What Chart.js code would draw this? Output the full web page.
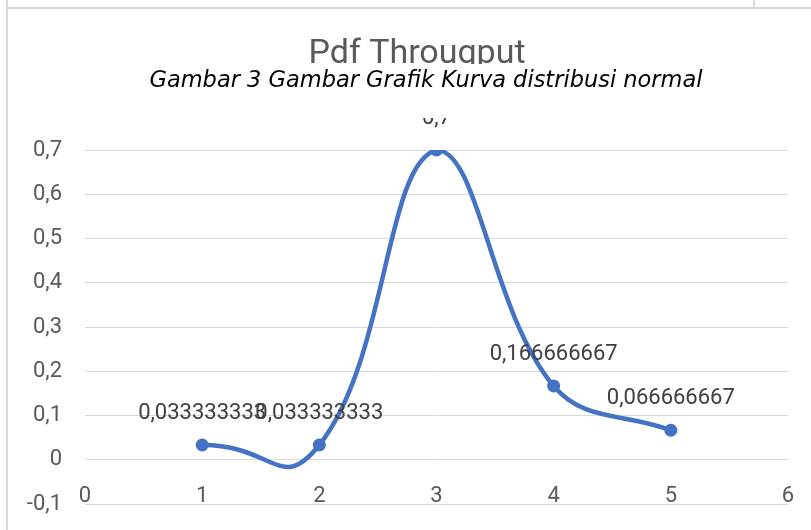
<!DOCTYPE html>
<html>
<head>
<meta charset="utf-8">
<title>Pdf Througput</title>
<script src="https://cdn.jsdelivr.net/npm/chart.js@4.4.1/dist/chart.umd.min.js"></script>
<style>
  html, body { margin: 0; padding: 0; background: #fff; }
  #wrap { position: relative; width: 811px; height: 530px; overflow: hidden; }
  #chart { position: absolute; left: 0; top: 0; }
  .frame { position: absolute; background: #d9d9d9; }
</style>
</head>
<body>
<div id="wrap">
  <canvas id="chart" width="811" height="530"></canvas>
  <div class="frame" style="left:6px; top:0; width:2px; height:530px;"></div>
  <div class="frame" style="left:6px; top:7px; width:805px; height:2px;"></div>
  <div class="frame" style="left:753px; top:0; width:2px; height:8px;"></div>
</div>
<script>
document.addEventListener('DOMContentLoaded', () => {
    // x positions and pdf values
    const xValues = [1, 2, 3, 4, 5];
    const pdfValues = [0.033333333, 0.033333333, 0.7, 0.166666667, 0.066666667];
    const chartTitle = 'Pdf Througput';
    const captionText = 'Gambar 3 Gambar Grafik Kurva distribusi normal';

    const lineColor = '#4472C4';
    const tickColor = '#595959';
    const gridColor = '#d9d9d9';
    const hidden = 'rgba(0,0,0,0)';

    const points = xValues.map((x, i) => ({ x: x, y: pdfValues[i] }));

    // Excel style number: comma as decimal separator
    function fmt(v) {
        return String(v).replace('.', ',');
    }

    // Draw value labels above each point
    const dataLabels = {
        id: 'dataLabels',
        afterDatasetsDraw(chart) {
            const ctx = chart.ctx;
            const meta = chart.getDatasetMeta(0);
            ctx.save();
            ctx.font = '22px Roboto';
            ctx.fillStyle = '#404040';
            ctx.textAlign = 'center';
            ctx.textBaseline = 'middle';
            meta.data.forEach((pt, i) => {
                ctx.fillText(fmt(pdfValues[i]), pt.x, pt.y - 31.5);
            });
            ctx.restore();
        }
    };

    // Chart title, then the Word caption box lying over it
    const header = {
        id: 'header',
        afterDraw(chart) {
            const ctx = chart.ctx;
            ctx.save();
            ctx.font = '34px Roboto';
            ctx.fillStyle = tickColor;
            ctx.textAlign = 'center';
            ctx.textBaseline = 'alphabetic';
            ctx.fillText(chartTitle, 417, 63);

            ctx.fillStyle = '#fff';
            ctx.fillRect(140, 64, 580, 54);

            ctx.font = 'italic 23px "DejaVu Sans"';
            ctx.fillStyle = '#000';
            const w = ctx.measureText(captionText).width;
            ctx.translate(426, 87);
            ctx.scale(553 / w, 1);
            ctx.fillText(captionText, 0, 0);
            ctx.restore();
        }
    };

    const ctx = document.getElementById('chart').getContext('2d');
    new Chart(ctx, {
        type: 'line',
        data: {
            datasets: [{
                // main series: points and the curve from x=2 onwards
                label: 'pdf',
                data: points,
                borderColor: lineColor,
                backgroundColor: lineColor,
                borderWidth: 4.5,
                tension: 0.4,
                pointRadius: 6.5,
                pointHoverRadius: 6.5,
                pointBackgroundColor: lineColor,
                pointBorderColor: lineColor,
                pointBorderWidth: 0,
                segment: { borderColor: (c) => c.p0DataIndex === 0 ? hidden : lineColor },
                order: 0
            }, {
                // first span drawn with looser smoothing, like Excel's dip below zero
                label: 'pdf (first span)',
                data: points.slice(0, 3),
                borderColor: lineColor,
                borderWidth: 4.5,
                tension: 0.62,
                pointRadius: 0,
                segment: { borderColor: (c) => c.p0DataIndex === 0 ? lineColor : hidden },
                order: 1
            }]
        },
        options: {
            responsive: false,
            animation: false,
            layout: { padding: { left: 0, right: 23, top: 150, bottom: 26 } },
            plugins: {
                legend: { display: false },
                tooltip: { enabled: false },
                title: { display: false }
            },
            scales: {
                x: {
                    type: 'linear',
                    position: { y: 0 },
                    min: 0,
                    max: 6,
                    grid: { drawOnChartArea: false, drawTicks: true, tickLength: 24, tickColor: hidden },
                    border: { display: false },
                    ticks: {
                        stepSize: 1,
                        color: tickColor,
                        padding: 0,
                        font: { family: 'Roboto', size: 22 }
                    }
                },
                y: {
                    min: -0.1,
                    max: 0.7,
                    afterFit(scale) { scale.width = 85; },
                    grid: { color: gridColor, lineWidth: 1, drawTicks: true, tickLength: 23, tickColor: hidden },
                    border: { display: false },
                    ticks: {
                        stepSize: 0.1,
                        color: tickColor,
                        padding: 0,
                        font: { family: 'Roboto', size: 22 },
                        callback: (v) => fmt(Number(v.toFixed(1)))
                    }
                }
            }
        },
        plugins: [dataLabels, header]
    });
});
</script>
</body>
</html>
